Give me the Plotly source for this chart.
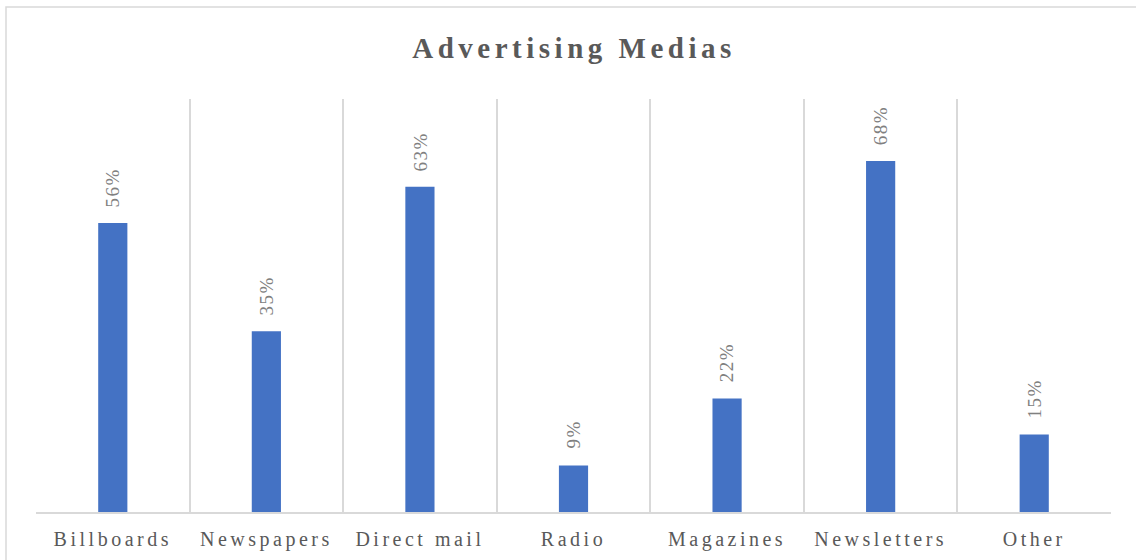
import plotly.graph_objects as go

categories = ["Billboards", "Newspapers", "Direct mail", "Radio", "Magazines", "Newsletters", "Other"]
values = [56, 35, 63, 9, 22, 68, 15]
labels = [f"{v}%" for v in values]

W, H = 1136, 560
L, R, T, B = 36, 25, 99, 48
ph = H - T - B
pw = W - L - R

fig = go.Figure(go.Bar(
    x=categories, y=values,
    marker=dict(color="#4472c4", line=dict(width=0)),
    cliponaxis=False,
))

annotations = [dict(x=c, y=v, xref="x", yref="y", text=t, showarrow=False,
                    textangle=-90, xanchor="center", yanchor="bottom", yshift=16,
                    font=dict(family="Liberation Serif", size=19, color="#808080"))
               for c, v, t in zip(categories, values, labels)]

fig.update_layout(
    width=W, height=H,
    margin=dict(l=L, r=R, t=T, b=B, autoexpand=False),
    paper_bgcolor="white", plot_bgcolor="white",
    bargap=0.81,
    showlegend=False,
    annotations=annotations,
    title=dict(text="<b>Advertising Medias</b>", x=574 / W, xanchor="center",
               y=1 - 48 / H, yanchor="middle",
               font=dict(family="Liberation Serif", size=29, color="#595959")),
    xaxis=dict(type="category", tickson="boundaries", showgrid=True, gridcolor="#d9d9d9",
               gridwidth=1.5, showline=True, linecolor="#d9d9d9", linewidth=1.5,
               ticks="", ticklabelstandoff=8, automargin=False,
               tickfont=dict(family="Liberation Serif", size=20, color="#595959"),
               mirror=False, zeroline=False),
    yaxis=dict(range=[0, 80], showgrid=False, showticklabels=False, zeroline=False,
               showline=False, ticks="", automargin=False),
    shapes=[dict(type="rect", xref="paper", yref="paper",
                 x0=(6 - L) / pw, x1=(W + 20 - L) / pw,
                 y0=-(H + 20 - (H - B)) / ph, y1=(H - B - 7) / ph,
                 line=dict(color="#d9d9d9", width=1.5), fillcolor="rgba(0,0,0,0)", layer="below")],
)

post = """
function sp(){
  document.querySelectorAll('.xtick text').forEach(function(t){t.style.letterSpacing='3.5px';});
  document.querySelectorAll('.gtitle').forEach(function(t){t.style.letterSpacing='4.5px';});
  document.querySelectorAll('.annotation-text').forEach(function(t){t.style.letterSpacing='1.5px';});
}
sp();
var gd=document.getElementById('{plot_id}');
gd.on('plotly_afterplot', sp);
"""
fig.write_html("out.html", post_script=post)
